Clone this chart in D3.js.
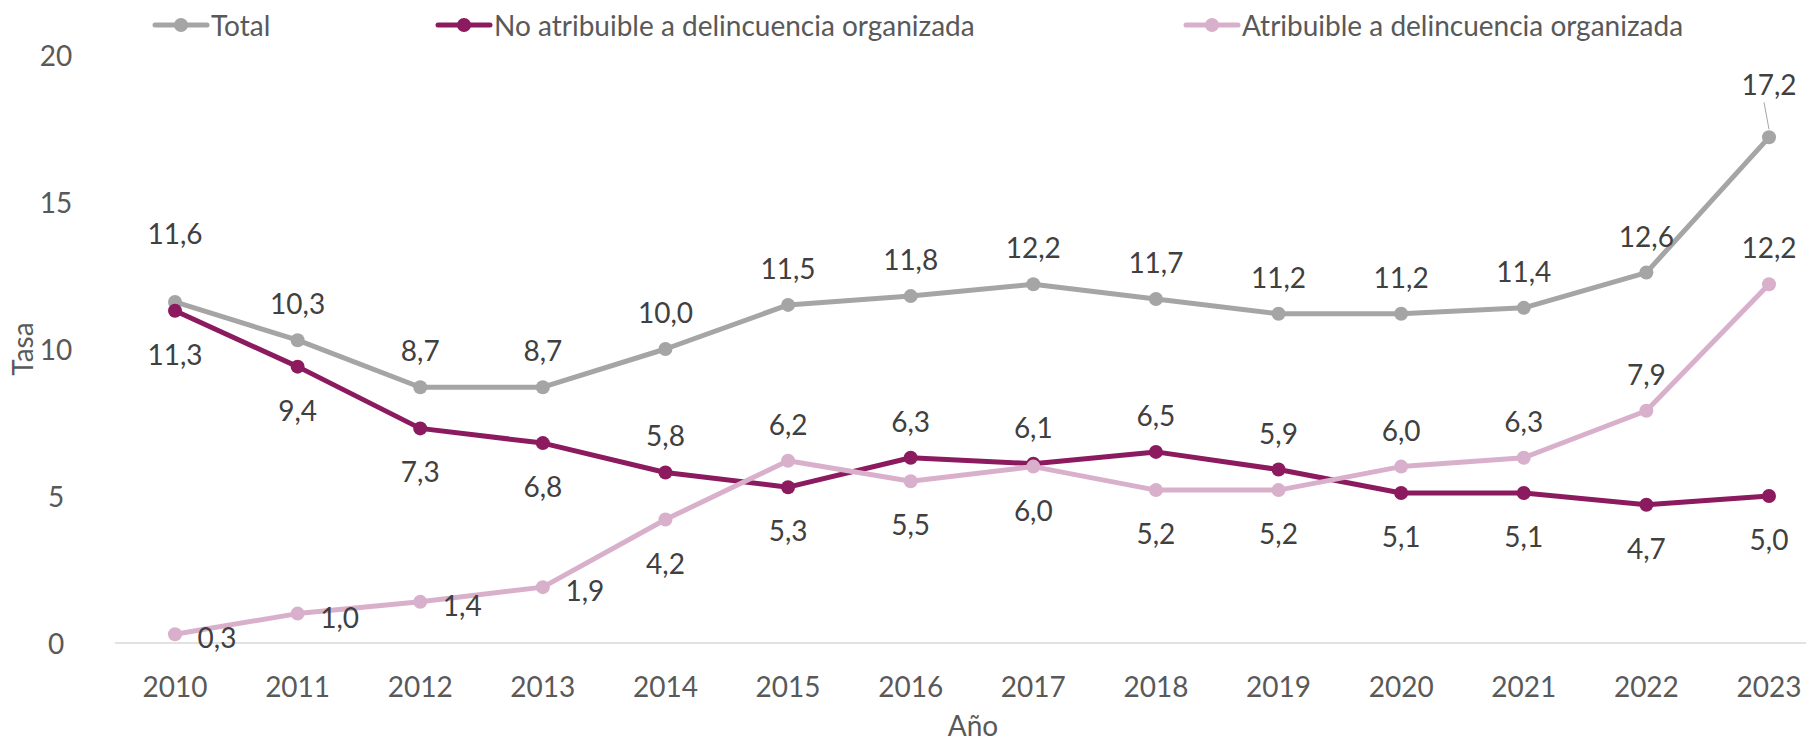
<!DOCTYPE html>
<html>
<head>
<meta charset="utf-8">
<style>
  body { margin: 0; background: #fff; }
  text { font-family: Lato, "Open Sans", sans-serif; }
</style>
</head>
<body>
<svg width="1806" height="744"></svg>
<script src="https://cdn.jsdelivr.net/npm/d3@7"></script>
<script>

var years = [2010, 2011, 2012, 2013, 2014, 2015, 2016, 2017, 2018, 2019, 2020, 2021, 2022, 2023];
var total = [11.6, 10.3, 8.7, 8.7, 10.0, 11.5, 11.8, 12.2, 11.7, 11.2, 11.2, 11.4, 12.6, 17.2];
var noAtrib = [11.3, 9.4, 7.3, 6.8, 5.8, 5.3, 6.3, 6.1, 6.5, 5.9, 5.1, 5.1, 4.7, 5.0];
var atrib = [0.3, 1.0, 1.4, 1.9, 4.2, 6.2, 5.5, 6.0, 5.2, 5.2, 6.0, 6.3, 7.9, 12.2];
var yTicks = [0, 5, 10, 15, 20];

// where each data label sits: t = above, b = below, r = right
var posTotal = ["t","t","t","t","t","t","t","t","t","t","t","t","t","t"];
var posNo    = ["b","b","b","b","t","b","t","t","t","t","b","b","b","b"];
var posAtrib = ["r","r","r","r","b","t","b","b","b","b","t","t","t","t"];

var series = [
  {name: "Total", values: total, color: "#a5a5a5", pos: posTotal},
  {name: "No atribuible a delincuencia organizada", values: noAtrib, color: "#8c1a5f", pos: posNo},
  {name: "Atribuible a delincuencia organizada", values: atrib, color: "#d9b0cc", pos: posAtrib}
];

var fs = 28;

var svg = d3.select("svg");

var x = d3.scalePoint()
    .domain(years)
    .range([175, 1769]);

var y = d3.scaleLinear()
    .domain([0, 20])
    .range([643, 55]);

var fmt = function(v) { return d3.format(".1f")(v).replace(".", ","); };

// baseline
svg.append("line")
    .attr("x1", 115).attr("x2", 1806)
    .attr("y1", y(0)).attr("y2", y(0))
    .attr("stroke", "#d9d9d9")
    .attr("stroke-width", 1.5);

// y axis labels
svg.append("g").selectAll("text")
  .data(yTicks)
  .enter().append("text")
    .attr("x", 56)
    .attr("y", function(d) { return y(d); })
    .attr("text-anchor", "middle")
    .attr("dominant-baseline", "central")
    .attr("fill", "#595959")
    .attr("font-size", fs)
    .text(function(d) { return d; });

// x axis labels
svg.append("g").selectAll("text")
  .data(years)
  .enter().append("text")
    .attr("x", function(d) { return x(d); })
    .attr("y", 686)
    .attr("text-anchor", "middle")
    .attr("dominant-baseline", "central")
    .attr("fill", "#595959")
    .attr("font-size", fs)
    .text(function(d) { return d; });

svg.append("text")
    .attr("x", 973).attr("y", 725)
    .attr("text-anchor", "middle")
    .attr("dominant-baseline", "central")
    .attr("fill", "#595959")
    .attr("font-size", fs)
    .text("Año");

svg.append("text")
    .attr("transform", "translate(22," + y(10) + ") rotate(-90)")
    .attr("text-anchor", "middle")
    .attr("dominant-baseline", "central")
    .attr("fill", "#595959")
    .attr("font-size", fs)
    .text("Tasa");

var line = d3.line()
    .x(function(d, i) { return x(years[i]); })
    .y(function(d) { return y(d); });

series.forEach(function(s) {
  svg.append("path")
      .datum(s.values)
      .attr("fill", "none")
      .attr("stroke", s.color)
      .attr("stroke-width", 5)
      .attr("stroke-linejoin", "round")
      .attr("d", line);

  svg.append("g").selectAll("circle")
    .data(s.values)
    .enter().append("circle")
      .attr("cx", function(d, i) { return x(years[i]); })
      .attr("cy", function(d) { return y(d); })
      .attr("r", 7)
      .attr("fill", s.color);
});

// data labels
series.forEach(function(s) {
  svg.append("g").selectAll("text")
    .data(s.values)
    .enter().append("text")
      .attr("x", function(d, i) {
        return x(years[i]) + (s.pos[i] == "r" ? 42 : 0);
      })
      .attr("y", function(d, i) {
        var p = s.pos[i], yy = y(d);
        if (p == "t") yy -= 37;
        if (p == "b") yy += 43;
        if (p == "r") yy += 3;
        // manual nudges like the original
        if (s.name == "Total" && i == 0) yy -= 32;
        if (s.name == "Total" && i == years.length - 1) yy -= 16;
        return yy;
      })
      .attr("text-anchor", "middle")
      .attr("dominant-baseline", "central")
      .attr("fill", "#404040")
      .attr("font-size", fs)
      .text(function(d) { return fmt(d); });
});

// leader line for the last total label
svg.append("line")
    .attr("x1", x(2023) - 5).attr("y1", y(17.2) - 35)
    .attr("x2", x(2023)).attr("y2", y(17.2) - 8)
    .attr("stroke", "#a5a5a5")
    .attr("stroke-width", 1);

// legend
var legendX = [155, 438, 1186];
var legend = svg.append("g").selectAll("g")
  .data(series)
  .enter().append("g")
    .attr("transform", function(d, i) { return "translate(" + legendX[i] + ",25)"; });

legend.append("line")
    .attr("x1", 0).attr("x2", 52)
    .attr("stroke", function(d) { return d.color; })
    .attr("stroke-width", 5)
    .attr("stroke-linecap", "round");

legend.append("circle")
    .attr("cx", 26)
    .attr("r", 7)
    .attr("fill", function(d) { return d.color; });

legend.append("text")
    .attr("x", 56)
    .attr("dominant-baseline", "central")
    .attr("fill", "#595959")
    .attr("font-size", fs)
    .text(function(d) { return d.name; });

</script>
</body>
</html>
